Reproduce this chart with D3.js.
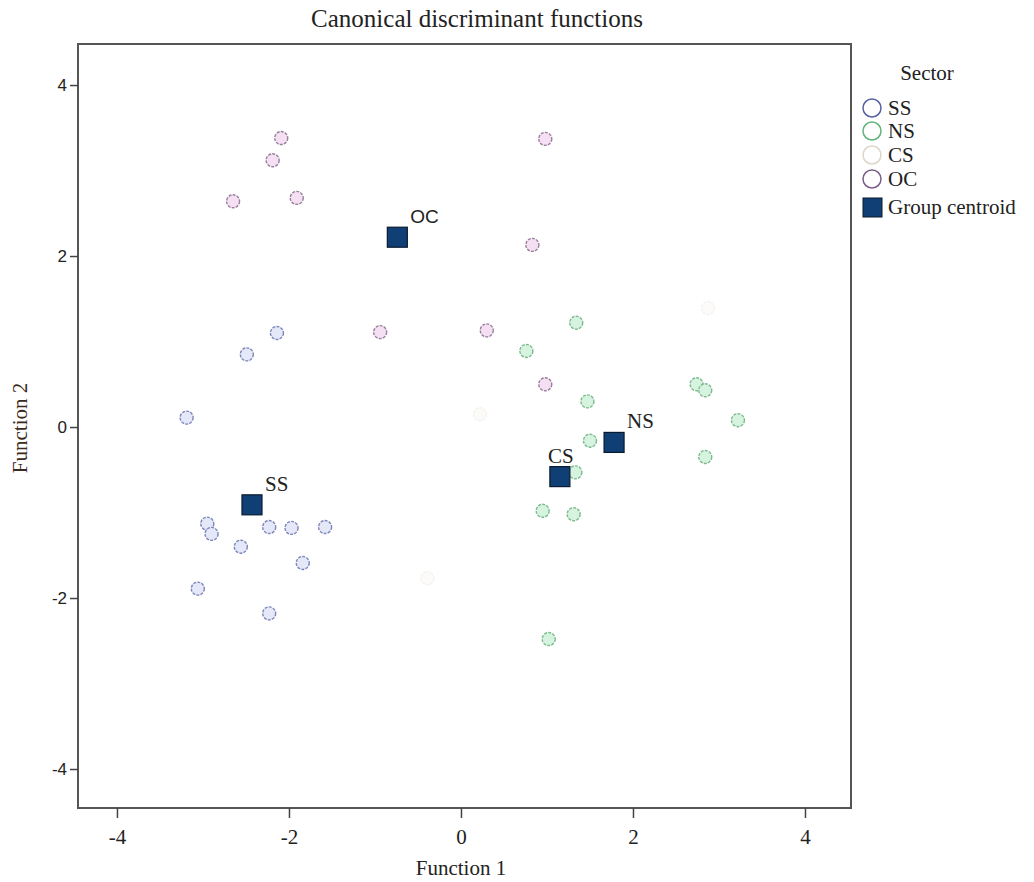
<!DOCTYPE html>
<html><head><meta charset="utf-8">
<script src="https://cdn.jsdelivr.net/npm/d3@7"></script>
<style>body{margin:0;background:#fff}</style>
</head><body><svg id="c" width="1034" height="882"></svg>
<script>
const groups = ["SS","NS","CS","OC"];
const ssX = [-2.14,-2.49,-3.19,-2.95,-2.90,-2.56,-2.23,-1.97,-1.58,-1.84,-3.06,-2.23];
const ssY = [1.10,0.85,0.11,-1.13,-1.25,-1.40,-1.17,-1.18,-1.17,-1.59,-1.89,-2.18];
const nsX = [1.34,0.76,1.47,2.74,2.84,3.22,2.84,1.50,1.33,0.95,1.31,1.02];
const nsY = [1.22,0.89,0.30,0.50,0.43,0.08,-0.35,-0.16,-0.53,-0.98,-1.02,-2.48];
const csX = [0.22,2.87,-0.39];
const csY = [0.15,1.39,-1.77];
const ocX = [-2.09,-2.19,-2.65,-1.91,0.98,0.83,-0.94,0.30,0.98];
const ocY = [3.38,3.12,2.64,2.68,3.37,2.13,1.11,1.13,0.50];
const centroidLabels = ["SS","NS","CS","OC"];
const centroidX = [-2.43,1.78,1.15,-0.74];
const centroidY = [-0.91,-0.18,-0.58,2.22];
const tickVals = [-4,-2,0,2,4];

const svg = d3.select("#c");
const L=78,R=851,T=44,B=808;
const x = d3.scaleLinear().domain([-4.453,4.535]).range([L,R]);
const y = d3.scaleLinear().domain([-4.456,4.48]).range([B,T]);
const fmt = d => String(d);

const fills = {SS:"#e4e8f8",NS:"#d6f3e0",CS:"#fcfbf9",OC:"#f5e0f3"};
const strokes = {SS:"#7f87ba",NS:"#7dbb8f",CS:"#f5f2ee",OC:"#9a7f9e"};
const legStroke = {SS:"#56609e",NS:"#5fb47c",CS:"#ddd5c6",OC:"#7c5e86"};

svg.append("text").attr("x",477).attr("y",27).attr("text-anchor","middle")
  .attr("font-family","Liberation Serif").attr("font-size",25).attr("fill","#222")
  .text("Canonical discriminant functions");

svg.append("rect").attr("x",L).attr("y",T).attr("width",R-L).attr("height",B-T)
  .attr("fill","#fff").attr("stroke","#555").attr("stroke-width",2);

const xa = svg.append("g").attr("transform",`translate(0,${B})`)
  .call(d3.axisBottom(x).tickValues(tickVals).tickSize(10).tickSizeOuter(0).tickFormat(fmt));
xa.select(".domain").remove();
xa.selectAll("line").attr("stroke","#444").attr("stroke-width",1.5);
xa.selectAll("text").attr("font-family","Liberation Serif").attr("font-size",21).attr("fill","#222").attr("y",17).attr("dy","0.9em");

const ya = svg.append("g").attr("transform",`translate(${L},0)`)
  .call(d3.axisLeft(y).tickValues(tickVals).tickSize(8).tickSizeOuter(0).tickFormat(fmt));
ya.select(".domain").remove();
ya.selectAll("line").attr("stroke","#444").attr("stroke-width",1.5);
ya.selectAll("text").attr("font-family","Liberation Sans").attr("font-size",17).attr("fill","#222").attr("x",-11);

svg.append("text").attr("x",461).attr("y",875).attr("text-anchor","middle")
  .attr("font-family","Liberation Serif").attr("font-size",21).attr("fill","#222").text("Function 1");
svg.append("text").attr("transform","translate(27,428) rotate(-90)").attr("text-anchor","middle")
  .attr("font-family","Liberation Serif").attr("font-size",21).attr("fill","#3a2a20").text("Function 2");

const data = [];
const src = {SS:[ssX,ssY],NS:[nsX,nsY],CS:[csX,csY],OC:[ocX,ocY]};
groups.forEach(g=>{ src[g][0].forEach((v,i)=>data.push({g,x:v,y:src[g][1][i]})); });

svg.append("g").selectAll("circle").data(data).join("circle")
  .attr("cx",d=>x(d.x)).attr("cy",d=>y(d.y)).attr("r",6.5)
  .attr("fill",d=>fills[d.g]).attr("stroke",d=>strokes[d.g]).attr("stroke-width",1.4)
  .attr("stroke-dasharray","3,1.2");

const cg = svg.append("g");
centroidLabels.forEach((lab,i)=>{
  const cx=x(centroidX[i]), cy=y(centroidY[i]);
  cg.append("rect").attr("x",cx-10).attr("y",cy-10).attr("width",20).attr("height",20)
    .attr("fill","#0f3f74").attr("stroke","#0a1a2e").attr("stroke-width",1.2);
  cg.append("text").attr("x",cx+ (lab==="CS"?-12:13)).attr("y",cy-14)
    .attr("font-family", lab==="OC" ? "Liberation Sans" : "Liberation Serif").attr("font-size",lab==="OC"?19:21).attr("fill","#222").text(lab);
});

// legend
const lg = svg.append("g");
lg.append("text").attr("x",927).attr("y",80).attr("text-anchor","middle")
  .attr("font-family","Liberation Serif").attr("font-size",21).attr("fill","#222").text("Sector");
const ly = [108,131,155,179];
groups.forEach((g,i)=>{
  lg.append("circle").attr("cx",872).attr("cy",ly[i]).attr("r",9)
    .attr("fill","#fff").attr("stroke",legStroke[g]).attr("stroke-width",1.5);
  lg.append("text").attr("x",888).attr("y",ly[i]+7).attr("font-family","Liberation Serif")
    .attr("font-size",21).attr("fill","#222").text(g);
});
lg.append("rect").attr("x",863).attr("y",198).attr("width",19).attr("height",19)
  .attr("fill","#0f3f74").attr("stroke","#0a1a2e");
lg.append("text").attr("x",888).attr("y",214).attr("font-family","Liberation Serif")
  .attr("font-size",21).attr("fill","#222").text("Group centroid");
</script></body></html>
